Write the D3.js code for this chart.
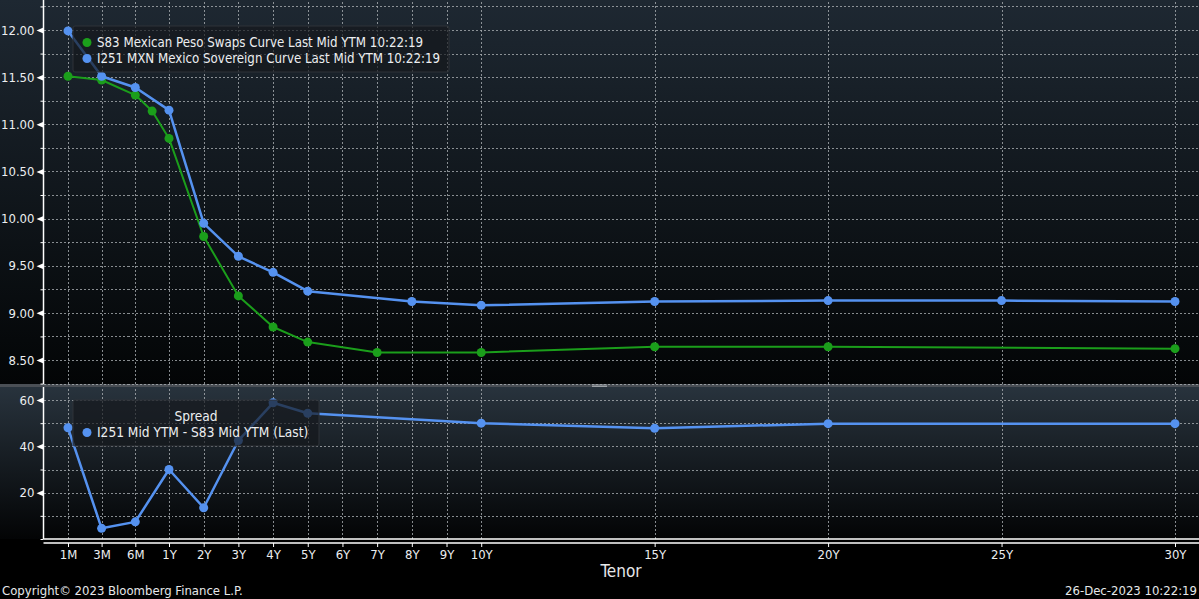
<!DOCTYPE html>
<html>
<head>
<meta charset="utf-8">
<script src="https://cdn.jsdelivr.net/npm/d3@7"></script>
<style>
  html, body { margin: 0; padding: 0; background: #000; overflow: hidden; }
  svg { display: block; }
</style>
</head>
<body>
<div id="root"><svg></svg></div>
<script>
// axis tenors
const tenorLabels = ['1M','3M','6M','1Y','2Y','3Y','4Y','5Y','6Y','7Y','8Y','9Y','10Y','15Y','20Y','25Y','30Y'];

// S83 Mexican Peso Swaps Curve
const swapTenors = ['1M','3M','6M','9M','1Y','2Y','3Y','4Y','5Y','7Y','10Y','15Y','20Y','30Y'];
const swapYields = [11.51, 11.47, 11.31, 11.14, 10.85, 9.81, 9.18, 8.85, 8.69, 8.58, 8.58, 8.64, 8.64, 8.62];

// I251 MXN Mexico Sovereign Curve
const sovTenors = ['1M','3M','6M','1Y','2Y','3Y','4Y','5Y','8Y','10Y','15Y','20Y','25Y','30Y'];
const sovYields = [11.99, 11.51, 11.39, 11.15, 9.95, 9.60, 9.43, 9.23, 9.12, 9.08, 9.12, 9.13, 9.13, 9.12];

// spread (bp)
const spreadTenors = ['1M','3M','6M','1Y','2Y','3Y','4Y','5Y','10Y','15Y','20Y','30Y'];
const spreadBp = [48, 4.6, 7.4, 30, 13.5, 42.5, 58.8, 54.3, 50, 47.8, 49.8, 49.8];

const topTicks = [8.5, 9, 9.5, 10, 10.5, 11, 11.5, 12];
const botTicks = [20, 40, 60];

const legendTop = ['S83 Mexican Peso Swaps Curve Last Mid YTM 10:22:19',
                   'I251 MXN Mexico Sovereign Curve Last Mid YTM 10:22:19'];
const legendBot = ['Spread', 'I251 Mid YTM - S83 Mid YTM (Last)'];

const width = 1199, height = 599;
const green = '#1b9e1b', blue = '#5592f0';
const font = "'DejaVu Sans Condensed', 'DejaVu Sans', sans-serif";

const years = t => t.endsWith('M') ? +t.slice(0, -1) / 12 : +t.slice(0, -1);

const plotL = 43.5, plotR = width;
const top0 = 0, top1 = 384, bot0 = 387, bot1 = 539;

// short end evenly spaced, linear in years from 1Y on
const x = d3.scaleLinear()
    .domain([1/12, 0.25, 0.5, 1, 30])
    .range([68, 101.6, 135.3, 169, 1175]);
const yTop = d3.scaleLinear().domain([8.5, 12]).range([360, 30]);
const yBot = d3.scaleLinear().domain([0, 60]).range([bot1, 400]);

const svg = d3.select('#root').select('svg')
    .attr('width', width)
    .attr('height', height)
    .style('font-family', font);

const defs = svg.append('defs');
function grad(id, c0, c1) {
    const g = defs.append('linearGradient').attr('id', id)
        .attr('x1', 0).attr('y1', 0).attr('x2', 0).attr('y2', 1);
    g.append('stop').attr('offset', '0%').attr('stop-color', c0);
    g.append('stop').attr('offset', '100%').attr('stop-color', c1);
}
grad('bgTop', '#1e2832', '#030506');
grad('bgBot', '#28333d', '#030405');

svg.append('rect').attr('width', width).attr('height', height).attr('fill', '#000');
svg.append('rect').attr('x', 0).attr('y', top0).attr('width', width).attr('height', top1 - top0).attr('fill', 'url(#bgTop)');
svg.append('rect').attr('x', 0).attr('y', bot0).attr('width', width).attr('height', bot1 - bot0).attr('fill', 'url(#bgBot)');

// separator with handle
svg.append('rect').attr('x', 0).attr('y', top1).attr('width', width).attr('height', bot0 - top1).attr('fill', '#4a4f55');
svg.append('rect').attr('x', 592).attr('y', 384.6).attr('width', 15).attr('height', 0.8).attr('fill', '#b0b4b8');
svg.append('rect').attr('x', 592).attr('y', 386.2).attr('width', 15).attr('height', 0.8).attr('fill', '#b0b4b8');

function styleGrid(g) {
    g.select('.domain').remove();
    g.selectAll('line').attr('stroke', '#a8acb0').attr('stroke-width', 1)
        .attr('stroke-dasharray', '2,2').attr('opacity', 0.8).attr('shape-rendering', 'crispEdges');
}

// vertical grids
const tenorYears = tenorLabels.map(years);
svg.append('g').attr('transform', `translate(0,${top1})`)
    .call(d3.axisBottom(x).tickValues(tenorYears).tickSize(-(top1 - top0)).tickFormat(''))
    .call(styleGrid);
svg.append('g').attr('transform', `translate(0,${bot1})`)
    .call(d3.axisBottom(x).tickValues(tenorYears).tickSize(-(bot1 - bot0)).tickFormat(''))
    .call(styleGrid);

// horizontal grids
svg.append('g').attr('transform', `translate(${plotL},0)`)
    .call(d3.axisLeft(yTop).tickValues(d3.range(8.25, 12.3, 0.25)).tickSize(-(plotR - plotL)).tickFormat(''))
    .call(styleGrid);
svg.append('g').attr('transform', `translate(${plotL},0)`)
    .call(d3.axisLeft(yBot).tickValues(d3.range(10, 61, 10)).tickSize(-(plotR - plotL)).tickFormat(''))
    .call(styleGrid);

// y axes
function yAxis(scale, ticks, minor, fmt, y0, y1) {
    const g = svg.append('g').attr('transform', `translate(${plotL},0)`);
    g.append('g')
        .call(d3.axisLeft(scale).tickValues(minor).tickSize(3).tickFormat(''))
        .call(a => a.select('.domain').remove())
        .selectAll('line').attr('stroke', '#fff');
    const major = g.append('g')
        .call(d3.axisLeft(scale).tickValues(ticks).tickSize(0).tickPadding(9).tickFormat(fmt));
    major.select('.domain').remove();
    major.selectAll('text').attr('fill', '#eceef0').attr('font-size', '13px').attr('font-family', font);
    major.selectAll('.tick').append('path')
        .attr('d', 'M0,-3L-7,0L0,3Z').attr('fill', '#fff');
    g.append('line').attr('x1', 0).attr('x2', 0).attr('y1', y0).attr('y2', y1)
        .attr('stroke', '#fff').attr('stroke-width', 1.5);
}
yAxis(yTop, topTicks, d3.range(8.25, 12.3, 0.25), d3.format('.2f'), top0, top1);
yAxis(yBot, botTicks, [0].concat(d3.range(10, 61, 10)), d3.format('d'), bot0, bot1);

// series
function series(tenors, values, scale, color, lw) {
    const data = tenors.map((t, i) => ({ t: years(t), v: values[i] }));
    const line = d3.line().x(d => x(d.t)).y(d => scale(d.v));
    svg.append('path').datum(data)
        .attr('d', line).attr('fill', 'none')
        .attr('stroke', color).attr('stroke-width', lw).attr('stroke-linejoin', 'round');
    svg.append('g').selectAll('circle').data(data).enter().append('circle')
        .attr('cx', d => x(d.t)).attr('cy', d => scale(d.v)).attr('r', 4.5).attr('fill', color);
}
series(swapTenors, swapYields, yTop, green, 2);
series(sovTenors, sovYields, yTop, blue, 2.5);
series(spreadTenors, spreadBp, yBot, blue, 2.5);

// x axis
svg.append('line').attr('x1', plotL).attr('x2', plotR).attr('y1', bot1).attr('y2', bot1)
    .attr('stroke', '#fff').attr('stroke-width', 1.5);
const xAxis = svg.append('g').attr('transform', `translate(0,${bot1 + 4})`)
    .call(d3.axisBottom(x).tickValues(tenorYears).tickSize(4).tickPadding(3)
        .tickFormat((d, i) => tenorLabels[i]));
xAxis.select('.domain').attr('d', `M${plotL},0H${plotR}`).attr('stroke', '#fff').attr('stroke-width', 1.5);
xAxis.selectAll('line').attr('stroke', '#fff');
xAxis.selectAll('text').attr('fill', '#eceef0').attr('font-size', '13px').attr('font-family', font);

svg.append('text').attr('x', 621).attr('y', 577).attr('text-anchor', 'middle')
    .attr('fill', '#e6e8ea').attr('font-size', '17px').text('Tenor');

// legends
function legend(x0, y0, w, h, rows) {
    const g = svg.append('g');
    g.append('rect').attr('x', x0).attr('y', y0).attr('width', w).attr('height', h).attr('rx', 2)
        .attr('fill', 'rgba(20,24,28,0.68)').attr('stroke', '#2e3338');
    rows.forEach(r => {
        if (r.color) {
            g.append('circle').attr('cx', x0 + 14).attr('cy', r.y - 4.5).attr('r', 4.5).attr('fill', r.color);
        }
        g.append('text').attr('x', r.center ? x0 + w / 2 : x0 + 24).attr('y', r.y)
            .attr('text-anchor', r.center ? 'middle' : 'start')
            .attr('fill', '#eceef0').attr('font-size', r.size).text(r.text);
    });
}
legend(73, 26, 376, 46, [
    { text: legendTop[0], color: green, y: 47, size: '13.2px' },
    { text: legendTop[1], color: blue, y: 63, size: '13.2px' }
]);
legend(73, 400, 246, 46, [
    { text: legendBot[0], center: true, y: 421, size: '13.6px' },
    { text: legendBot[1], color: blue, y: 437, size: '13.6px' }
]);

// footer
svg.append('text').attr('x', 2).attr('y', 595).attr('fill', '#e6e8ea').attr('font-size', '13px')
    .text('Copyright\u00a9 2023 Bloomberg Finance L.P.');
svg.append('text').attr('x', 1197).attr('y', 595).attr('text-anchor', 'end').attr('fill', '#e6e8ea')
    .attr('font-size', '13px').text('26-Dec-2023 10:22:19');
</script>
</body>
</html>
